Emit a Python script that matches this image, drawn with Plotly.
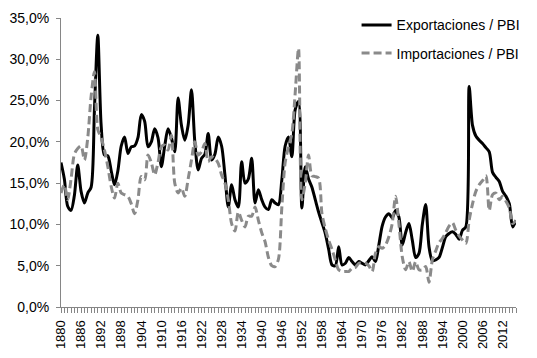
import plotly.graph_objects as go

years = list(range(1880, 2017))

exportaciones = [
    17.5, 15.5, 12.2, 11.7, 13.5, 17.2, 14.0, 12.6, 13.8, 14.5,   # 1880-1889
    24.0, 32.9, 22.0, 18.4, 18.3, 16.5, 14.8, 16.5, 19.5, 20.6,   # 1890-1899
    18.6, 19.4, 19.5, 20.5, 23.3, 22.5, 19.4, 20.0, 21.6, 20.5,   # 1900-1909
    17.0, 19.5, 21.6, 20.5, 18.8, 25.3, 22.0, 20.2, 22.0, 26.3,   # 1910-1919
    20.0, 16.6, 18.0, 18.5, 21.0, 17.8, 18.5, 20.6, 19.5, 16.0,   # 1920-1929
    12.1, 14.8, 13.0, 12.1, 17.6, 15.0, 15.5, 18.0, 12.6, 14.2,   # 1930-1939
    13.0, 12.1, 11.8, 13.0, 12.6, 12.4, 15.4, 19.5, 20.6, 18.2,   # 1940-1949
    23.9, 24.9, 12.0, 17.0, 15.5, 14.5, 13.0, 11.5, 10.2, 8.9,    # 1950-1959
    7.0, 5.1, 5.0, 7.3, 5.1, 5.3, 6.0, 5.5, 5.1, 5.5,             # 1960-1969
    5.3, 5.1, 5.6, 6.1, 5.5, 7.5, 9.8, 10.9, 11.3, 10.8,          # 1970-1979
    11.7, 10.9, 7.5, 9.0, 10.1, 8.1, 6.0, 6.5, 10.0, 12.4,        # 1980-1989
    7.3, 5.6, 5.7, 6.0, 7.2, 8.5, 8.9, 9.1, 8.8, 8.2,             # 1990-1999
    9.3, 9.7, 26.7, 22.0, 20.7, 20.2, 19.8, 19.3, 18.8, 16.3,     # 2000-2009
    15.7, 15.2, 14.0, 13.4, 12.5, 9.7, 10.5                       # 2010-2016
]

importaciones = [
    13.8, 14.8, 13.0, 15.5, 18.5, 19.2, 19.5, 17.8, 20.5, 25.5,   # 1880-1889
    28.5, 21.5, 20.5, 19.0, 17.0, 14.6, 13.2, 15.0, 13.8, 13.6,   # 1890-1899
    13.4, 12.5, 11.3, 13.0, 15.8, 15.4, 18.4, 17.5, 16.0, 17.5,   # 1900-1909
    19.4, 19.6, 19.0, 20.8, 15.0, 13.8, 14.4, 13.4, 15.5, 17.8,   # 1910-1919
    20.0, 18.4, 18.8, 19.8, 17.6, 18.2, 18.0, 17.4, 16.0, 15.0,   # 1920-1929
    13.0, 10.1, 9.2, 11.5, 10.5, 9.7, 11.0, 11.0, 12.1, 10.5,     # 1930-1939
    9.0, 7.9, 6.0, 5.0, 4.9, 5.8, 12.0, 17.5, 19.4, 21.0,         # 1940-1949
    25.9, 31.3, 13.0, 15.0, 18.4, 15.9, 15.8, 15.6, 11.3, 9.5,    # 1950-1959
    8.1, 7.0, 5.7, 4.5, 4.3, 4.3, 4.3, 4.7, 4.8, 5.3,             # 1960-1969
    5.3, 5.3, 5.0, 4.3, 6.5, 7.3, 7.1, 7.5, 8.5, 10.1,            # 1970-1979
    13.4, 10.1, 6.1, 4.5, 5.5, 4.3, 5.5, 4.5, 4.5, 4.9,           # 1980-1989
    3.0, 5.7, 6.8, 7.8, 8.3, 9.0, 9.8, 10.2, 9.3, 8.6,            # 1990-1999
    8.1, 7.7, 10.5, 12.5, 14.0, 14.8, 15.3, 15.9, 11.7, 13.6,     # 2000-2009
    13.8, 13.0, 13.4, 12.8, 12.0, 10.1, 10.5                      # 2010-2016
]

series_names = ["Exportaciones / PBI", "Importaciones / PBI"]

tick_text = [str(y) if (y - 1880) % 6 == 0 else "" for y in years]

fig = go.Figure()
fig.add_trace(go.Scatter(
    x=years, y=[v / 100 for v in exportaciones], name=series_names[0],
    mode="lines", line=dict(color="#000000", width=3, shape="spline", smoothing=0.8),
    legendgroup="a",
))
fig.add_trace(go.Scatter(
    x=years, y=[v / 100 for v in importaciones], name=series_names[1],
    mode="lines", line=dict(color="#8a8a8a", width=3, shape="spline", smoothing=0.8, dash="8px,4px"),
    legendgroup="b",
))

fig.update_layout(
    width=537, height=358,
    margin=dict(l=61, r=21, t=18, b=51, autoexpand=False),
    paper_bgcolor="white", plot_bgcolor="white",
    separators=",.",
    font=dict(family="Liberation Sans, Arial, sans-serif", size=14, color="#000000"),
    showlegend=True,
    legend=dict(
        xref="container", yref="container",
        x=0.664, y=0.974, xanchor="left", yanchor="top",
        bgcolor="rgba(0,0,0,0)", font=dict(size=14),
        traceorder="grouped", tracegroupgap=7,
    ),
    xaxis=dict(
        range=[1880, 2016], tickmode="array", tickvals=years, ticktext=tick_text,
        tickangle=-90, ticks="outside", ticklen=5, tickcolor="#868686", tickwidth=1,
        showline=True, linecolor="#868686", linewidth=1, showgrid=False, zeroline=False,
        tickfont=dict(size=13), automargin=False, ticklabelstandoff=2,
    ),
    yaxis=dict(
        range=[0, 0.35], dtick=0.05, tickformat=".1%", ticks="outside", ticklen=4,
        tickcolor="#868686", showline=True, linecolor="#868686", linewidth=1,
        showgrid=False, zeroline=False, tickfont=dict(size=14), automargin=False,
        ticklabelstandoff=4,
    ),
)

fig.write_html("out.html", config={"displayModeBar": False},
               post_script="document.body.style.margin='0';")
